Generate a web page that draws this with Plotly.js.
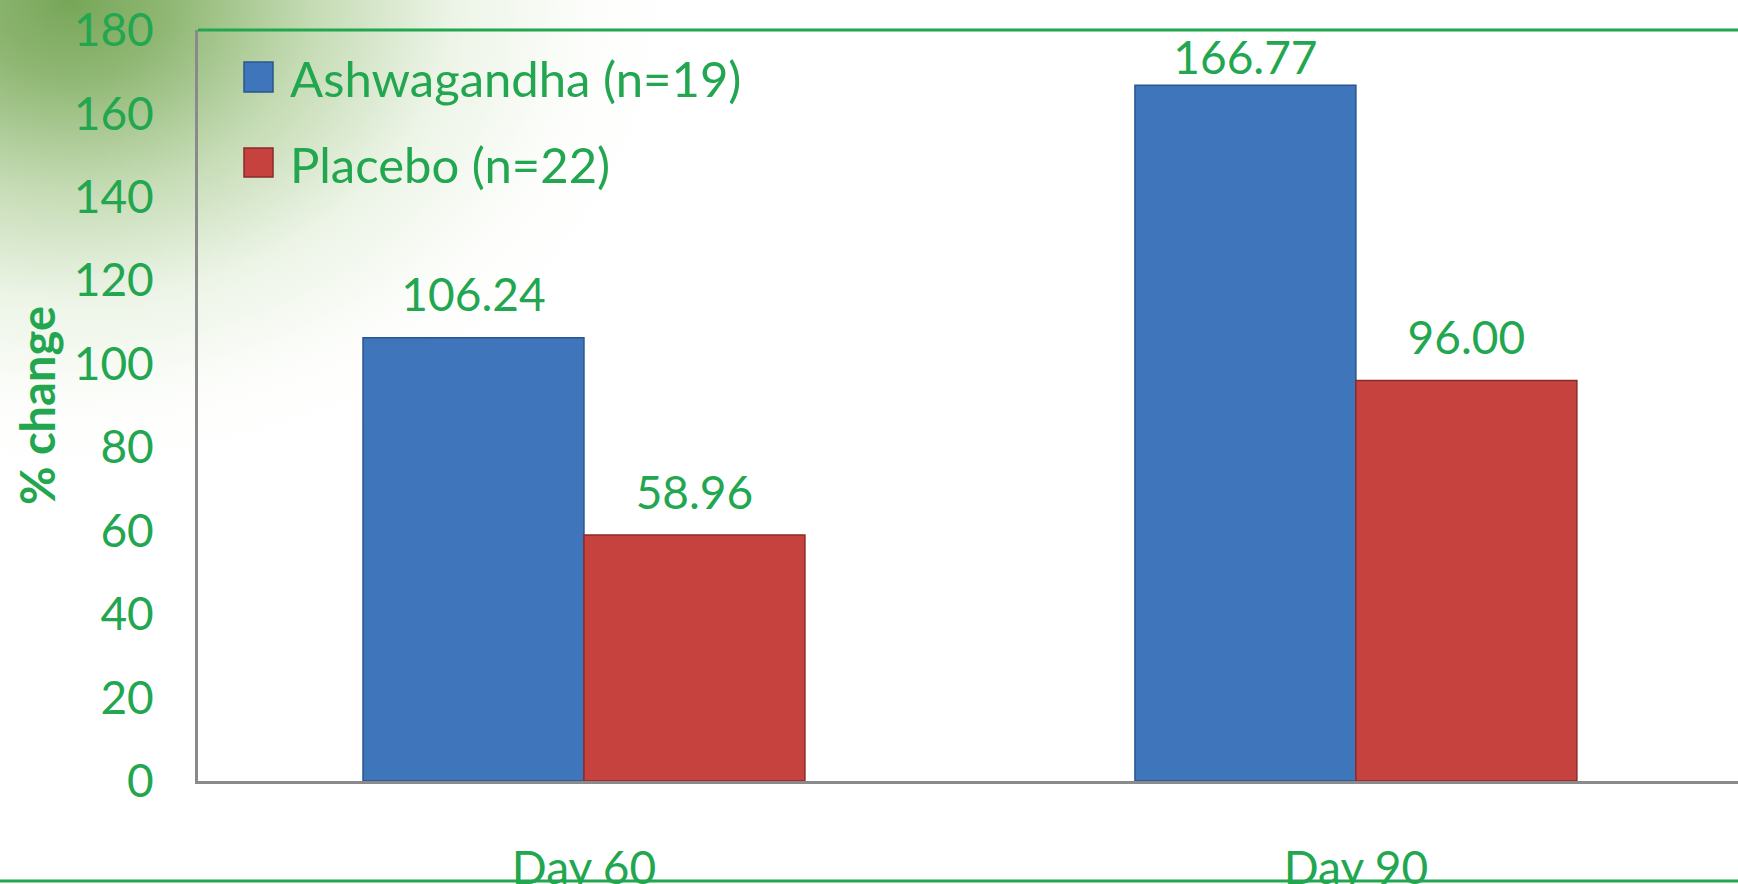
<!DOCTYPE html>
<html>
<head>
<meta charset="utf-8">
<script src="https://cdn.plot.ly/plotly-3.0.1.min.js"></script>
<style>
html,body{margin:0;padding:0;width:1738px;height:884px;overflow:hidden;background:#ffffff;}
#bg{position:absolute;left:0;top:0;width:1738px;height:884px;
 background: radial-gradient(ellipse 640px 500px at 70px 0px,
   rgba(118,166,88,1) 0%, rgba(135,178,105,0.92) 16%, rgba(172,204,148,0.7) 38%,
   rgba(212,230,198,0.42) 60%, rgba(242,248,236,0.15) 82%, rgba(255,255,255,0) 100%);}
#chart{position:absolute;left:0;top:0;width:1738px;height:884px;}
</style>
</head>
<body>
<div id="bg"></div>
<div id="chart"></div>
<script>
// ---- data ----
const categories = ['Day 60', 'Day 90'];
const seriesNames = ['Ashwagandha (n=19)', 'Placebo (n=22)'];
const ashwagandha = [106.24, 166.77];
const placebo = [58.96, 96.00];
const yTickValues = [0, 20, 40, 60, 80, 100, 120, 140, 160, 180];
const yTitle = '% change';

// ---- styles ----
const GREEN = '#22a64f';
const FONT = 'Lato, "Open Sans", sans-serif';
const colors = ['#3f75bb', '#c6423f'];
const lineColors = ['#2a5690', '#8a2b2a'];
const labelMarkerSizes = [[22, 0], [22, 22]];
const BARGAP = 0.4275;

const series = [ashwagandha, placebo];
const traces = [];
series.forEach((vals, i) => {
  traces.push({
    type: 'bar', x: categories, y: vals, name: seriesNames[i],
    offsetgroup: 'g' + i, showlegend: false,
    marker: {color: colors[i], line: {color: lineColors[i], width: 1.5}},
    hoverinfo: 'skip'
  });
});
series.forEach((vals, i) => {
  traces.push({
    type: 'scatter', mode: 'markers+text', x: categories, y: vals,
    offsetgroup: 'g' + i, showlegend: false,
    marker: {size: labelMarkerSizes[i], opacity: 0},
    text: vals.map(v => v.toFixed(2)), textposition: 'top center',
    textfont: {family: FONT, size: 46, color: GREEN},
    cliponaxis: false, hoverinfo: 'skip'
  });
});

// plot area geometry (pixels) for paper-coord decorations
const W = 1738, H = 884, ML = 198, MR = 0, MT = 30, MB = 103;
const PW = W - ML - MR, PH = H - MT - MB;
const px = x => (x - ML) / PW;
const py = y => (H - MB - y) / PH;

const shapes = [
  {type: 'line', xref: 'paper', yref: 'paper', x0: 0, x1: 1, y0: 1, y1: 1,
   line: {color: GREEN, width: 3}},
  {type: 'line', xref: 'paper', yref: 'paper', x0: px(0), x1: px(W), y0: py(881), y1: py(881),
   line: {color: GREEN, width: 3}}
];
const annotations = [];
const legendRows = [{top: 62, bottom: 92, text: 78}, {top: 148, bottom: 177, text: 164}];
seriesNames.forEach((name, i) => {
  const r = legendRows[i];
  shapes.push({type: 'rect', xref: 'paper', yref: 'paper',
    x0: px(244), x1: px(273), y0: py(r.bottom), y1: py(r.top),
    fillcolor: colors[i], line: {color: lineColors[i], width: 1.5}});
  annotations.push({xref: 'paper', yref: 'paper', x: px(288), y: py(r.text),
    xanchor: 'left', yanchor: 'middle', showarrow: false, text: name,
    font: {family: FONT, size: 49, color: GREEN}});
});

const layout = {
  width: W, height: H,
  margin: {l: ML, r: MR, t: MT, b: MB, pad: 0},
  paper_bgcolor: 'rgba(0,0,0,0)', plot_bgcolor: 'rgba(0,0,0,0)',
  barmode: 'group', bargap: BARGAP, bargroupgap: 0,
  scattermode: 'group', scattergap: BARGAP,
  showlegend: false, hovermode: false,
  font: {family: FONT, color: GREEN},
  xaxis: {
    type: 'category', range: [-0.5, 1.495], fixedrange: true,
    showline: true, linecolor: '#8a8a8a', linewidth: 3,
    showgrid: false, zeroline: false, ticks: '',
    tickfont: {family: FONT, size: 46, color: GREEN},
    ticklabelstandoff: 45
  },
  yaxis: {
    range: [0, 180], tickvals: yTickValues, fixedrange: true,
    showline: true, linecolor: '#8a8a8a', linewidth: 3,
    showgrid: false, zeroline: false, ticks: '',
    tickfont: {family: FONT, size: 46, color: GREEN},
    ticklabelstandoff: 32,
    title: {text: yTitle, standoff: 4, font: {family: FONT, size: 47, color: GREEN, weight: 'bold'}}
  },
  shapes: shapes,
  annotations: annotations
};

Plotly.newPlot('chart', traces, layout, {displayModeBar: false, staticPlot: true});
</script>
</body>
</html>
